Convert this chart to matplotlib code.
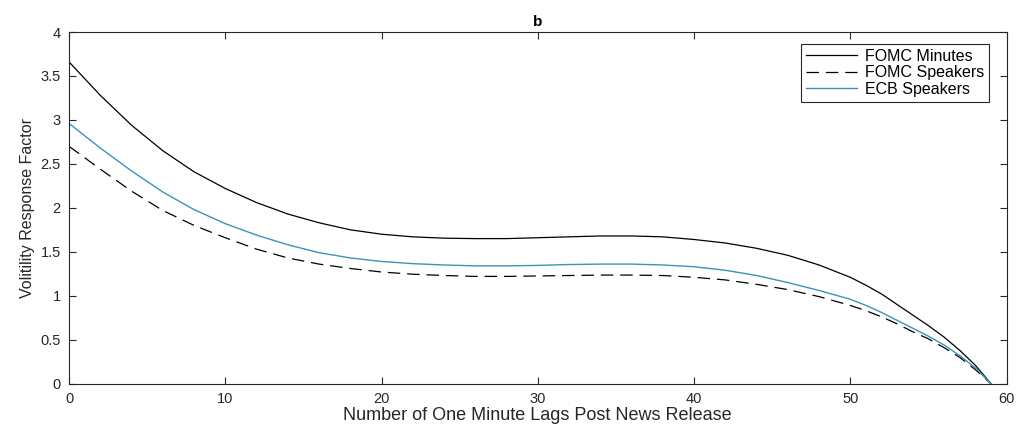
import matplotlib.pyplot as plt

plt.rcParams['font.family'] = ['Liberation Sans', 'DejaVu Sans']

# lag (minutes) and response factors
lags = [0, 2, 4, 6, 8, 10, 12, 14, 16, 18, 20, 22, 24, 26, 28, 30,
        32, 34, 36, 38, 40, 42, 44, 46, 48, 50, 51, 52, 53, 54, 55, 56, 57, 58, 59]
fomc_minutes = [3.66, 3.28, 2.94, 2.65, 2.41, 2.22, 2.06, 1.93, 1.83, 1.75, 1.70,
                1.67, 1.655, 1.65, 1.65, 1.66, 1.67, 1.68, 1.68, 1.67, 1.64,
                1.60, 1.54, 1.46, 1.35, 1.21, 1.12, 1.02, 0.90, 0.78, 0.66,
                0.53, 0.38, 0.21, 0.0]
fomc_speakers = [2.70, 2.44, 2.19, 1.97, 1.80, 1.66, 1.53, 1.43, 1.36, 1.31, 1.27,
                 1.245, 1.23, 1.22, 1.22, 1.225, 1.23, 1.235, 1.235, 1.23, 1.21,
                 1.18, 1.13, 1.07, 0.99, 0.89, 0.83, 0.76, 0.68, 0.59, 0.51,
                 0.41, 0.30, 0.16, 0.0]
ecb_speakers = [2.96, 2.68, 2.42, 2.18, 1.98, 1.82, 1.69, 1.58, 1.49, 1.43, 1.39,
                1.365, 1.35, 1.34, 1.34, 1.345, 1.355, 1.36, 1.36, 1.35, 1.33,
                1.29, 1.23, 1.15, 1.06, 0.96, 0.89, 0.81, 0.72, 0.63, 0.54,
                0.44, 0.32, 0.18, 0.0]

fig = plt.figure(figsize=(10.26, 4.33), dpi=100)
ax = fig.add_axes([0.0673, 0.114, 0.9137, 0.812])

ax.plot(lags, fomc_minutes, color='black', linewidth=0.9, label='FOMC Minutes')
ax.plot(lags, fomc_speakers, color='black', linewidth=0.9, linestyle=(0, (10, 5.5)),
        label='FOMC Speakers')
ax.plot(lags, ecb_speakers, color='#3a94b8', linewidth=1.0, label='ECB Speakers')

ax.set_xlim(0, 60)
ax.set_ylim(0, 4)
ax.set_xticks(range(0, 61, 10))
ax.set_yticks([0, 0.5, 1, 1.5, 2, 2.5, 3, 3.5, 4])
ax.set_yticklabels(['0', '0.5', '1', '1.5', '2', '2.5', '3', '3.5', '4'])
ax.tick_params(direction='in', length=5, width=0.8, top=True, right=True,
               labelsize=10.5, colors='#262626', pad=6)
for s in ax.spines.values():
    s.set_color('#262626')
    s.set_linewidth(0.8)

ax.set_xlabel('Number of One Minute Lags Post News Release', fontsize=13,
              color='#262626', labelpad=1)
ax.set_ylabel('Volitility Response Factor', fontsize=11.5, color='#262626', labelpad=4)
ax.set_title('b', fontsize=11, fontweight='bold', pad=4)

leg = ax.legend(loc='upper right', bbox_to_anchor=(0.981, 0.966), borderaxespad=0,
                fontsize=11.5, frameon=True, fancybox=False,
                edgecolor='#262626', framealpha=1, handlelength=3.2,
                labelspacing=0.1, handletextpad=0.5, borderpad=0.3)
leg.get_frame().set_linewidth(0.8)

plt.savefig('out.png', dpi=100)
